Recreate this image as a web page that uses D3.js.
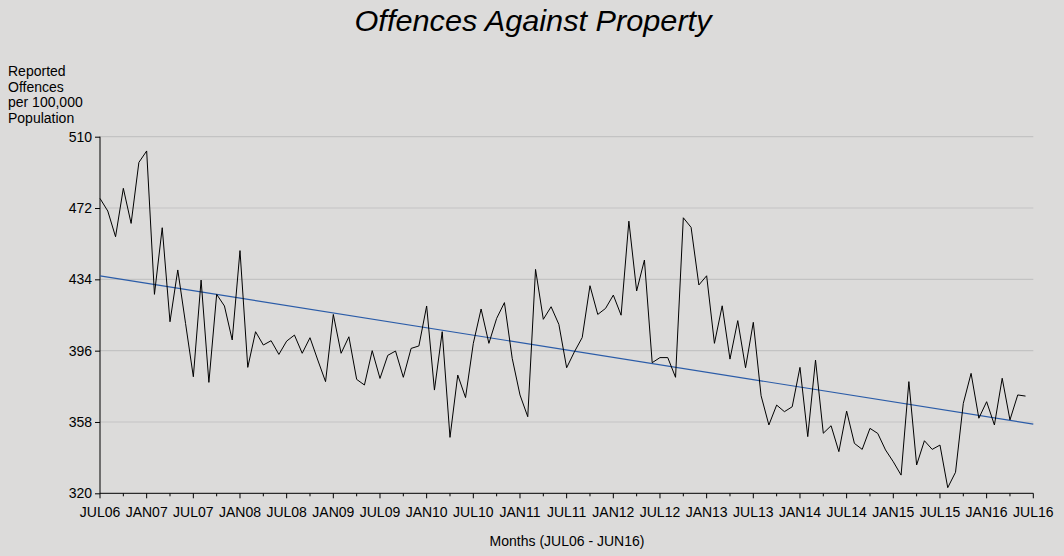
<!DOCTYPE html>
<html>
<head>
<meta charset="utf-8">
<script src="https://cdn.jsdelivr.net/npm/d3@7"></script>
<style>
  html, body { margin: 0; padding: 0; background: #dcdbda; }
  svg { display: block; }
  text { font-family: "Liberation Sans", Arial, sans-serif; fill: #000; }
</style>
</head>
<body>
<svg id="chart" width="1064" height="556"></svg>
<script>
// ---- data (monthly, JUL06 .. JUN16) ----
const values = [
  477.1, 470.4, 456.7, 482.5, 463.8, 496.3, 502.4, 426.0, 461.5, 411.4, 439.0, 410.5,
  382.1, 433.6, 379.1, 426.0, 419.8, 401.7, 449.3, 387.1, 406.1, 399.0, 401.3, 394.0,
  401.1, 404.3, 394.6, 402.9, 391.0, 379.5, 415.3, 394.6, 403.4, 380.7, 377.7, 396.0,
  381.2, 393.5, 395.8, 381.8, 397.2, 398.5, 419.8, 375.0, 406.1, 349.8, 383.0, 371.0,
  399.9, 418.2, 399.9, 413.2, 421.6, 391.9, 372.4, 360.8, 439.3, 412.7, 419.4, 410.0,
  386.9, 395.4, 403.0, 430.6, 415.3, 418.5, 425.6, 414.9, 465.0, 427.8, 444.3, 389.6,
  392.3, 392.3, 381.8, 466.8, 461.7, 431.0, 435.9, 399.9, 419.9, 391.5, 412.0, 386.9,
  411.1, 372.0, 356.4, 367.0, 363.5, 366.1, 387.1, 350.2, 391.0, 352.0, 356.0, 342.2,
  363.8, 346.6, 343.4, 354.6, 351.9, 343.1, 336.8, 329.7, 379.5, 335.1, 348.0, 343.4,
  345.7, 323.0, 331.2, 367.9, 383.9, 360.0, 368.8, 356.4, 381.3, 359.1, 372.4, 371.8
];
const trendMonths = [0, 120];
const trendValues = [435.8, 356.9];
const yTicks = [320, 358, 396, 434, 472, 510];
const xTickLabels = ["JUL06","JAN07","JUL07","JAN08","JUL08","JAN09","JUL09","JAN10","JUL10","JAN11",
                     "JUL11","JAN12","JUL12","JAN13","JUL13","JAN14","JUL14","JAN15","JUL15","JAN16","JUL16"];
const titleText = "Offences Against Property";
const yLabelLines = ["Reported", "Offences", "per 100,000", "Population"];
const xTitle = "Months (JUL06 - JUN16)";

// ---- layout ----
const svg = d3.select("#chart");
const pLeft = 100, pRight = 1033.3, pTop = 136.7, pBottom = 493.3;
const fs = 14;

svg.append("rect").attr("width", 1064).attr("height", 556).attr("fill", "#dcdbda");

const x = d3.scaleLinear().domain([0, 120]).range([pLeft, pRight]);
const y = d3.scaleLinear().domain([320, 510]).range([pBottom, pTop]);

// gridlines
svg.append("g")
  .selectAll("line")
  .data(yTicks.filter(d => d !== 320))
  .join("line")
  .attr("x1", pLeft).attr("x2", pRight)
  .attr("y1", d => y(d)).attr("y2", d => y(d))
  .attr("stroke", "#c3c3c3").attr("stroke-width", 1.2);

// y axis
const yAxis = d3.axisLeft(y).tickValues(yTicks).tickSize(5).tickPadding(3).tickFormat(d3.format("d"));
const gy = svg.append("g").attr("transform", `translate(${pLeft},0)`).call(yAxis);
gy.select(".domain").attr("stroke", "#000").attr("d", `M0,${pTop}V${pBottom}`);
gy.selectAll(".tick line").attr("stroke", "#000");
gy.selectAll(".tick text").attr("font-size", fs).attr("font-family", "Liberation Sans, Arial, sans-serif").attr("fill", "#000");

// x axis - minor ticks every 3 months, major every 6 months with labels
const minorTicks = d3.range(0, 121, 3).filter(m => m % 6 !== 0);
const majorTicks = d3.range(0, 121, 6);
const gx = svg.append("g").attr("transform", `translate(0,${pBottom})`);
gx.append("line").attr("x1", pLeft).attr("x2", pRight).attr("y1", 0).attr("y2", 0).attr("stroke", "#000");
gx.selectAll("line.minor").data(minorTicks).join("line").attr("class", "minor")
  .attr("x1", d => x(d)).attr("x2", d => x(d)).attr("y1", 0).attr("y2", 3).attr("stroke", "#000");
gx.selectAll("line.major").data(majorTicks).join("line").attr("class", "major")
  .attr("x1", d => x(d)).attr("x2", d => x(d)).attr("y1", 0).attr("y2", 5).attr("stroke", "#000");
gx.selectAll("text").data(majorTicks).join("text")
  .attr("x", d => x(d)).attr("y", 24)
  .attr("text-anchor", "middle").attr("font-size", fs)
  .text((d, i) => xTickLabels[i]);

// trend line
svg.append("path")
  .datum(trendMonths.map((m, i) => [m, trendValues[i]]))
  .attr("fill", "none").attr("stroke", "#2b5ca8").attr("stroke-width", 1.2)
  .attr("d", d3.line().x(d => x(d[0])).y(d => y(d[1])));

// data line
svg.append("path")
  .datum(values)
  .attr("fill", "none").attr("stroke", "#000").attr("stroke-width", 1)
  .attr("stroke-linejoin", "miter")
  .attr("d", d3.line().x((d, i) => x(i)).y(d => y(d)));

// title
svg.append("text").attr("x", 533).attr("y", 31).attr("text-anchor", "middle")
  .attr("font-size", 29).attr("font-style", "italic")
  .attr("textLength", 357).attr("lengthAdjust", "spacingAndGlyphs")
  .text(titleText);

// y label
svg.append("g").selectAll("text").data(yLabelLines).join("text")
  .attr("x", 8).attr("y", (d, i) => 76 + i * 15.6)
  .attr("font-size", fs).text(d => d);

// x title
svg.append("text").attr("x", 567).attr("y", 546).attr("text-anchor", "middle")
  .attr("font-size", fs).text(xTitle);
</script>
</body>
</html>
